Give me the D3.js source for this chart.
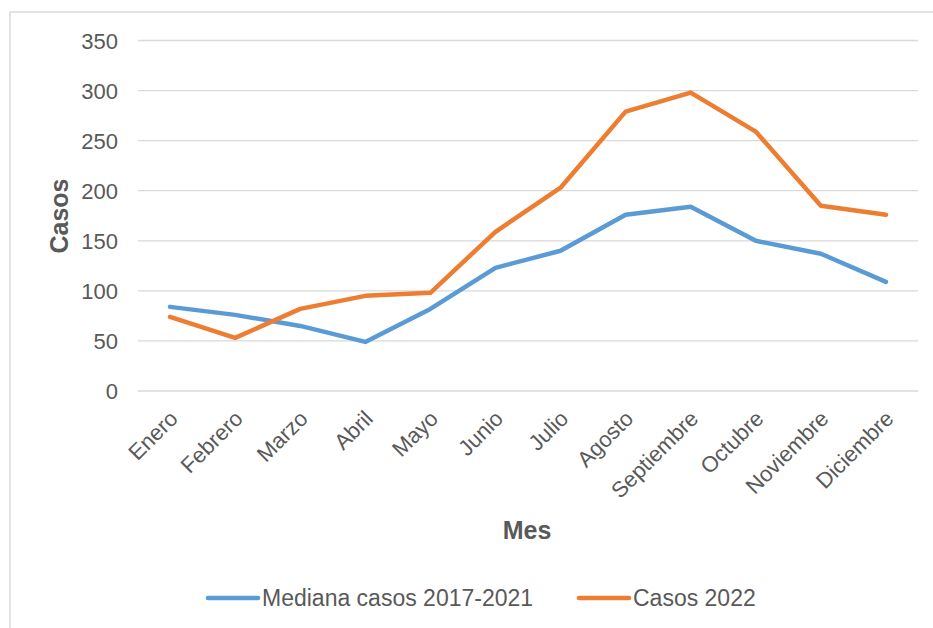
<!DOCTYPE html>
<html>
<head>
<meta charset="utf-8">
<script src="https://cdn.jsdelivr.net/npm/d3@7"></script>
<style>
  body { margin: 0; background: #fff; }
  svg { display: block; font-family: "Liberation Sans", Arial, sans-serif; }
  .tick text { fill: #595959; }
</style>
</head>
<body>
<svg class="chart" width="933" height="628"></svg>
<script>
const months = ["Enero", "Febrero", "Marzo", "Abril", "Mayo", "Junio", "Julio",
  "Agosto", "Septiembre", "Octubre", "Noviembre", "Diciembre"];
const medianaValues = [84, 76, 65, 49, 82, 123, 140, 176, 184, 150, 137, 109];
const casos2022Values = [74, 53, 82, 95, 98, 159, 203, 279, 298, 259, 185, 176];
const yTicks = [0, 50, 100, 150, 200, 250, 300, 350];
const seriesNames = ["Mediana casos 2017-2021", "Casos 2022"];
const seriesColors = ["#5b9bd5", "#ed7d31"];

const svg = d3.select("svg.chart");

// chart frame (only top/left edges visible in the picture)
svg.append("rect")
  .attr("x", 10)
  .attr("y", 12)
  .attr("width", 960)
  .attr("height", 660)
  .attr("fill", "none")
  .attr("stroke", "#d9d9d9")
  .attr("stroke-width", 1.5);

const x = d3.scaleBand().domain(months).range([137.5, 918.5]);
const y = d3.scaleLinear().domain([0, 350]).range([391, 40.5]);

// gridlines
svg.append("g")
  .selectAll("line")
  .data(yTicks)
  .enter()
  .append("line")
  .attr("x1", 138)
  .attr("x2", 918)
  .attr("y1", d => y(d))
  .attr("y2", d => y(d))
  .attr("stroke", "#d9d9d9")
  .attr("stroke-width", 1.3);

// y axis labels
const yAxis = svg.append("g")
  .attr("transform", "translate(138,0)")
  .call(d3.axisLeft(y).tickValues(yTicks).tickSize(0).tickPadding(20));
yAxis.select(".domain").remove();
yAxis.selectAll("text").attr("font-size", 22).attr("dy", "0.36em");

// x axis labels
const xAxis = svg.append("g")
  .attr("transform", "translate(0,391)")
  .call(d3.axisBottom(x).tickSize(0));
xAxis.select(".domain").remove();
xAxis.selectAll("text")
  .attr("font-size", 22)
  .attr("text-anchor", "end")
  .attr("dy", "0")
  .attr("transform", "translate(9,29) rotate(-45)")
  .attr("y", 0)
  .attr("x", 0);

// lines
const allSeries = [medianaValues, casos2022Values];
const line = d3.line()
  .x((d, i) => x(months[i]) + x.bandwidth() / 2)
  .y(d => y(d));

svg.append("g")
  .selectAll("path")
  .data(allSeries)
  .enter()
  .append("path")
  .attr("d", d => line(d))
  .attr("fill", "none")
  .attr("stroke", (d, i) => seriesColors[i])
  .attr("stroke-width", 4.5)
  .attr("stroke-linejoin", "round")
  .attr("stroke-linecap", "round");

// axis titles
svg.append("text")
  .attr("transform", "translate(68,216) rotate(-90)")
  .attr("text-anchor", "middle")
  .attr("font-size", 25)
  .attr("font-weight", "bold")
  .attr("fill", "#595959")
  .text("Casos");

svg.append("text")
  .attr("x", 527)
  .attr("y", 539)
  .attr("text-anchor", "middle")
  .attr("font-size", 25)
  .attr("font-weight", "bold")
  .attr("fill", "#595959")
  .text("Mes");

// legend
const legendX = [208, 579];
const legend = svg.append("g")
  .selectAll("g")
  .data(seriesNames)
  .enter()
  .append("g")
  .attr("transform", (d, i) => "translate(" + legendX[i] + ",598)");

legend.append("line")
  .attr("x1", 0)
  .attr("x2", 50)
  .attr("stroke", (d, i) => seriesColors[i])
  .attr("stroke-width", 4.5)
  .attr("stroke-linecap", "round");

legend.append("text")
  .attr("x", 54)
  .attr("dy", "0.36em")
  .attr("font-size", 23)
  .attr("fill", "#595959")
  .text(d => d);
</script>
</body>
</html>
